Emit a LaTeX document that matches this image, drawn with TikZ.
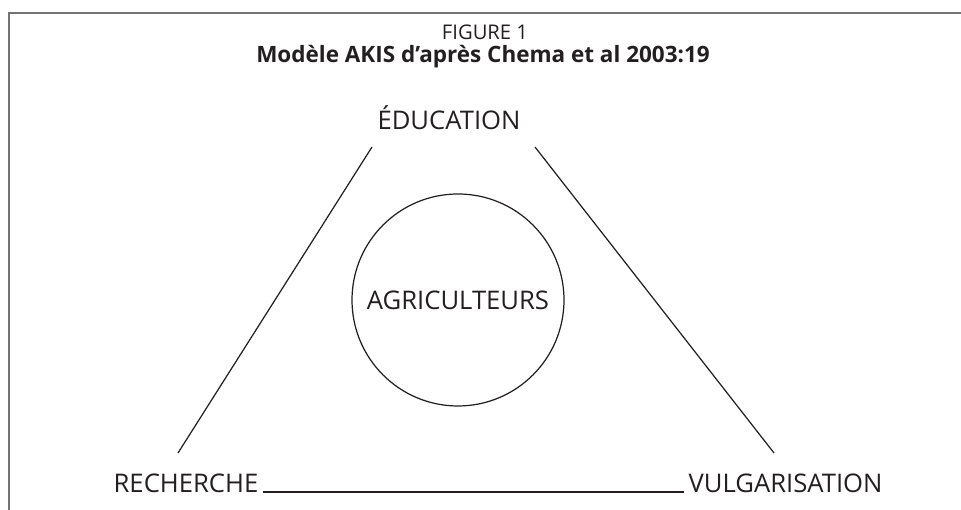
\documentclass[tikz,border=0pt]{standalone}
\usepackage{fontspec}
\setmainfont{Open Sans}
\definecolor{schrift}{HTML}{231F20}
\begin{document}
\begin{tikzpicture}[font=\fontsize{14.6}{17}\selectfont, inner sep=0pt, text=schrift, line width=0.7pt]
    \useasboundingbox (0,0) rectangle (19.22,10.2);

    % Rahmen
    \draw[black!55, line width=1pt] (0.18,0) -- (0.18,9.94) -- (19.22,9.94);

    % Titel
    \node[anchor=base, font=\fontsize{11.5}{13}\selectfont] (fig) at (9.7,9.4) {FIGURE 1};
    \node[anchor=base, font=\bfseries\fontsize{12.8}{14}\selectfont] (titel) at (9.66,8.94) {Modèle AKIS d’après Chema et al 2003:19};

    % Pole
    \node[anchor=base] (edu) at (8.98,7.6) {ÉDUCATION};
    \node[anchor=base east] (rech) at (5.18,0.34) {RECHERCHE};
    \node[anchor=base west] (vulg) at (13.76,0.34) {VULGARISATION};

    % Kreis
    \node[circle, draw=schrift, minimum size=4.24cm] (agri) at (9.16,4.2) {AGRICULTEURS};

    % Dreieck
    \coordinate (l-oben) at (7.44,7.26);
    \coordinate (l-unten) at (3.56,1.14);
    \coordinate (r-oben) at (10.7,7.26);
    \coordinate (r-unten) at (15.48,1.14);
    \draw[schrift] (l-oben) -- (l-unten);
    \draw[schrift] (r-oben) -- (r-unten);
    \draw[schrift] ([xshift=2pt,yshift=0.5pt]rech.base east) -- ([xshift=-2pt,yshift=0.5pt]vulg.base west);

\end{tikzpicture}
\end{document}
